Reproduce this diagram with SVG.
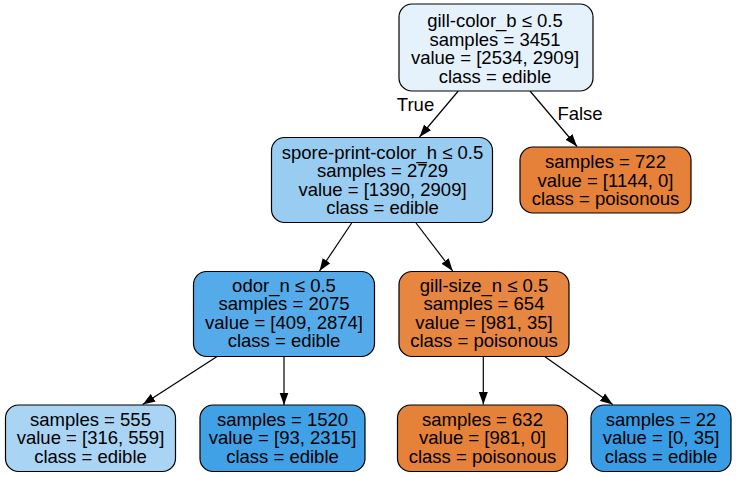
<svg xmlns="http://www.w3.org/2000/svg" width="736" height="477" viewBox="0 0 736 477">
<style>
.n{stroke:#000;stroke-width:1.2}
.t{font-family:"Liberation Sans",Arial,Helvetica,sans-serif;font-size:18.5px;fill:#000;text-anchor:middle}
.e{stroke:#000;stroke-width:1.2;fill:none;marker-end:url(#ah)}
</style>
<defs>
<marker id="ah" markerUnits="userSpaceOnUse" markerWidth="13" markerHeight="10" refX="12.5" refY="5" orient="auto">
<path d="M0,0.5 L12.5,5 L0,9.5 z" fill="#000"/>
</marker>
</defs>
<rect width="736" height="477" fill="#fff"/>
<g id="edges">
<line class="e" x1="458.3" y1="91" x2="419.5" y2="137"/>
<line class="e" x1="530" y1="91" x2="577" y2="146.5"/>
<line class="e" x1="351.7" y1="223" x2="319.5" y2="271"/>
<line class="e" x1="416" y1="223" x2="452.7" y2="271"/>
<line class="e" x1="216.7" y1="356.7" x2="142.7" y2="404.5"/>
<line class="e" x1="284" y1="356.7" x2="284" y2="405"/>
<line class="e" x1="483.3" y1="356.7" x2="483.3" y2="404.5"/>
<line class="e" x1="545" y1="356.7" x2="612.7" y2="404.5"/>
<text class="t" x="415.5" y="110.5">True</text>
<text class="t" x="580" y="119.5">False</text>
</g>
<g id="n0">
<rect class="n" x="399" y="4" width="194" height="87" rx="13" fill="#e5f2fc"/>
<text class="t" x="495" y="27">gill-color_b ≤ 0.5</text>
<text class="t" x="495" y="45.5">samples = 3451</text>
<text class="t" x="495" y="64">value = [2534, 2909]</text>
<text class="t" x="495" y="82.5">class = edible</text>
</g>
<g id="n1">
<rect class="n" x="271.5" y="137.5" width="221" height="85" rx="13" fill="#99ccf1"/>
<text class="t" x="382.5" y="159">spore-print-color_h ≤ 0.5</text>
<text class="t" x="382.5" y="177.3">samples = 2729</text>
<text class="t" x="382.5" y="195.6">value = [1390, 2909]</text>
<text class="t" x="382.5" y="213.7">class = edible</text>
</g>
<g id="n2">
<rect class="n" x="520" y="147" width="171" height="66" rx="13" fill="#e58139"/>
<text class="t" x="605.5" y="168">samples = 722</text>
<text class="t" x="605.5" y="186.5">value = [1144, 0]</text>
<text class="t" x="605.5" y="205">class = poisonous</text>
</g>
<g id="n3">
<rect class="n" x="193.5" y="271.5" width="181" height="85" rx="13" fill="#55abe9"/>
<text class="t" x="284" y="292">odor_n ≤ 0.5</text>
<text class="t" x="284" y="310.3">samples = 2075</text>
<text class="t" x="284" y="328.6">value = [409, 2874]</text>
<text class="t" x="284" y="347">class = edible</text>
</g>
<g id="n4">
<rect class="n" x="399" y="271.5" width="170" height="85" rx="13" fill="#e68640"/>
<text class="t" x="484" y="292">gill-size_n ≤ 0.5</text>
<text class="t" x="484" y="310.3">samples = 654</text>
<text class="t" x="484" y="328.6">value = [981, 35]</text>
<text class="t" x="484" y="347">class = poisonous</text>
</g>
<g id="n5">
<rect class="n" x="5.5" y="405" width="170" height="66.5" rx="13" fill="#a9d4f4"/>
<text class="t" x="90.5" y="426">samples = 555</text>
<text class="t" x="90.5" y="444.3">value = [316, 559]</text>
<text class="t" x="90.5" y="462.6">class = edible</text>
</g>
<g id="n6">
<rect class="n" x="200" y="405" width="165" height="66.5" rx="13" fill="#41a1e6"/>
<text class="t" x="282.5" y="426">samples = 1520</text>
<text class="t" x="282.5" y="444.3">value = [93, 2315]</text>
<text class="t" x="282.5" y="462.6">class = edible</text>
</g>
<g id="n7">
<rect class="n" x="397.5" y="405" width="170" height="66.5" rx="13" fill="#e58139"/>
<text class="t" x="482.5" y="426">samples = 632</text>
<text class="t" x="482.5" y="444.3">value = [981, 0]</text>
<text class="t" x="482.5" y="462.6">class = poisonous</text>
</g>
<g id="n8">
<rect class="n" x="591" y="405" width="140" height="66.5" rx="13" fill="#399de5"/>
<text class="t" x="661" y="426">samples = 22</text>
<text class="t" x="661" y="444.3">value = [0, 35]</text>
<text class="t" x="661" y="462.6">class = edible</text>
</g>
</svg>
